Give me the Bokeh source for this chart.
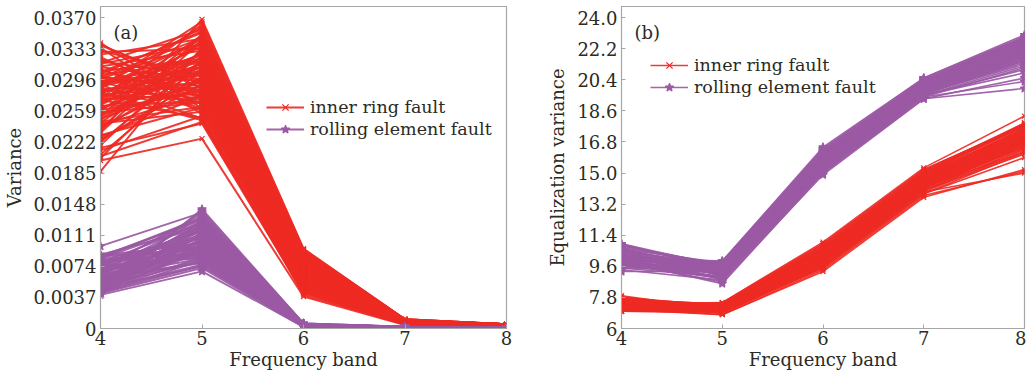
from bokeh.plotting import figure
from bokeh.layouts import row
from bokeh.models import (FixedTicker, CustomJSTickFormatter, Legend, LegendItem,
                          Label, Range1d)
from bokeh.embed import file_html
from bokeh.resources import INLINE

bands = [4, 5, 6, 7, 8]

# ---------------- panel (a): variance ----------------
red_a_b4 = [0.0340, 0.0337, 0.0334, 0.0326, 0.0318, 0.0312, 0.0308, 0.0305, 0.0302, 0.0300,
            0.0297, 0.0295, 0.0293, 0.0291, 0.0289, 0.0287, 0.0285, 0.0283, 0.0281, 0.0279,
            0.0277, 0.0275, 0.0273, 0.0271, 0.0268, 0.0265, 0.0262, 0.0259, 0.0256, 0.0252,
            0.0248, 0.0244, 0.0240, 0.0235, 0.0228, 0.0222, 0.0215, 0.0207, 0.0200, 0.0187,
            0.0331, 0.0321, 0.0315, 0.0309, 0.0303, 0.0298, 0.0294, 0.0290, 0.0286, 0.0282,
            0.0278, 0.0274, 0.0270, 0.0266, 0.0260, 0.0254, 0.0246, 0.0237, 0.0225, 0.0212,
            0.0338, 0.0329, 0.0323, 0.0316, 0.0311, 0.0306, 0.0301, 0.0299, 0.0296, 0.0292,
            0.0288, 0.0284, 0.0280, 0.0276, 0.0272, 0.0269, 0.0264, 0.0261, 0.0257, 0.0253,
            0.0250, 0.0245, 0.0242, 0.0238, 0.0233, 0.0230, 0.0224, 0.0218, 0.0205, 0.0203]
red_a_b5 = [0.0262, 0.0290, 0.0255, 0.0345, 0.0301, 0.0331, 0.0275, 0.0352, 0.0318, 0.0283,
            0.0340, 0.0296, 0.0268, 0.0325, 0.0310, 0.0359, 0.0287, 0.0304, 0.0248, 0.0336,
            0.0293, 0.0315, 0.0279, 0.0348, 0.0322, 0.0270, 0.0306, 0.0342, 0.0285, 0.0313,
            0.0329, 0.0258, 0.0299, 0.0368, 0.0277, 0.0320, 0.0244, 0.0308, 0.0226, 0.0335,
            0.0300, 0.0276, 0.0338, 0.0261, 0.0354, 0.0289, 0.0317, 0.0250, 0.0344, 0.0307,
            0.0272, 0.0362, 0.0295, 0.0328, 0.0282, 0.0312, 0.0264, 0.0349, 0.0291, 0.0253,
            0.0286, 0.0333, 0.0267, 0.0356, 0.0297, 0.0321, 0.0259, 0.0346, 0.0281, 0.0311,
            0.0365, 0.0274, 0.0327, 0.0302, 0.0251, 0.0339, 0.0288, 0.0316, 0.0269, 0.0350,
            0.0294, 0.0324, 0.0278, 0.0309, 0.0343, 0.0263, 0.0298, 0.0332, 0.0246, 0.0319]
red_a_b6 = [0.0058, 0.0072, 0.0049, 0.0088, 0.0065, 0.0081, 0.0054, 0.0093, 0.0070, 0.0061,
            0.0084, 0.0067, 0.0052, 0.0077, 0.0063, 0.0090, 0.0059, 0.0074, 0.0045, 0.0079,
            0.0062, 0.0069, 0.0056, 0.0086, 0.0075, 0.0050, 0.0066, 0.0082, 0.0060, 0.0071,
            0.0078, 0.0047, 0.0064, 0.0095, 0.0057, 0.0073, 0.0042, 0.0068, 0.0038, 0.0080,
            0.0066, 0.0055, 0.0083, 0.0048, 0.0091, 0.0061, 0.0076, 0.0044, 0.0087, 0.0069,
            0.0053, 0.0094, 0.0063, 0.0079, 0.0058, 0.0072, 0.0051, 0.0085, 0.0064, 0.0040,
            0.0062, 0.0084, 0.0052, 0.0091, 0.0067, 0.0078, 0.0049, 0.0088, 0.0060, 0.0073,
            0.0094, 0.0056, 0.0081, 0.0068, 0.0046, 0.0086, 0.0063, 0.0075, 0.0054, 0.0089,
            0.0065, 0.0080, 0.0057, 0.0071, 0.0087, 0.0050, 0.0066, 0.0083, 0.0043, 0.0076]
red_a_b7 = [0.0007, 0.0008, 0.0006, 0.0010, 0.0007, 0.0009, 0.0006, 0.0011, 0.0008, 0.0007,
            0.0009, 0.0008, 0.0006, 0.0009, 0.0007, 0.0010, 0.0007, 0.0008, 0.0005, 0.0009,
            0.0007, 0.0008, 0.0006, 0.0010, 0.0008, 0.0006, 0.0007, 0.0009, 0.0007, 0.0008,
            0.0009, 0.0005, 0.0007, 0.0011, 0.0006, 0.0008, 0.0005, 0.0008, 0.0004, 0.0009,
            0.0008, 0.0006, 0.0009, 0.0006, 0.0010, 0.0007, 0.0008, 0.0005, 0.0010, 0.0008,
            0.0006, 0.0011, 0.0007, 0.0009, 0.0007, 0.0008, 0.0006, 0.0009, 0.0007, 0.0005,
            0.0007, 0.0009, 0.0006, 0.0010, 0.0008, 0.0009, 0.0006, 0.0010, 0.0007, 0.0008,
            0.0011, 0.0006, 0.0009, 0.0008, 0.0005, 0.0010, 0.0007, 0.0008, 0.0006, 0.0010,
            0.0007, 0.0009, 0.0006, 0.0008, 0.0010, 0.0006, 0.0007, 0.0009, 0.0005, 0.0008]
red_a_b8 = [0.0003, 0.0004, 0.0003, 0.0005, 0.0003, 0.0004, 0.0003, 0.0005, 0.0004, 0.0003,
            0.0004, 0.0004, 0.0003, 0.0004, 0.0003, 0.0005, 0.0003, 0.0004, 0.0002, 0.0004,
            0.0003, 0.0004, 0.0003, 0.0005, 0.0004, 0.0003, 0.0003, 0.0004, 0.0003, 0.0004,
            0.0004, 0.0002, 0.0003, 0.0005, 0.0003, 0.0004, 0.0002, 0.0004, 0.0002, 0.0004,
            0.0004, 0.0003, 0.0004, 0.0003, 0.0005, 0.0003, 0.0004, 0.0002, 0.0005, 0.0004,
            0.0003, 0.0005, 0.0003, 0.0004, 0.0003, 0.0004, 0.0003, 0.0004, 0.0003, 0.0002,
            0.0003, 0.0004, 0.0003, 0.0005, 0.0004, 0.0004, 0.0003, 0.0005, 0.0003, 0.0004,
            0.0005, 0.0003, 0.0004, 0.0004, 0.0002, 0.0005, 0.0003, 0.0004, 0.0003, 0.0005,
            0.0003, 0.0004, 0.0003, 0.0004, 0.0005, 0.0003, 0.0003, 0.0004, 0.0002, 0.0004]

pur_a_b4 = [0.0098, 0.0088, 0.0086, 0.0084, 0.0082, 0.0080, 0.0078, 0.0077, 0.0075, 0.0074,
            0.0072, 0.0071, 0.0069, 0.0068, 0.0066, 0.0065, 0.0064, 0.0062, 0.0061, 0.0060,
            0.0058, 0.0057, 0.0056, 0.0055, 0.0054, 0.0053, 0.0052, 0.0051, 0.0050, 0.0049,
            0.0048, 0.0047, 0.0046, 0.0045, 0.0045, 0.0044, 0.0043, 0.0042, 0.0041, 0.0040,
            0.0087, 0.0083, 0.0079, 0.0076, 0.0073, 0.0070, 0.0067, 0.0063, 0.0059, 0.0056,
            0.0053, 0.0050, 0.0047, 0.0044, 0.0042,
            0.0086, 0.0081, 0.0077, 0.0074, 0.0071, 0.0068, 0.0065, 0.0062, 0.0060, 0.0057,
            0.0055, 0.0052, 0.0050, 0.0048, 0.0046, 0.0085, 0.0079, 0.0069, 0.0058, 0.0043]
pur_a_b5 = [0.0138, 0.0120, 0.0095, 0.0131, 0.0108, 0.0089, 0.0125, 0.0102, 0.0116, 0.0084,
            0.0112, 0.0098, 0.0128, 0.0093, 0.0105, 0.0118, 0.0087, 0.0100, 0.0123, 0.0079,
            0.0110, 0.0096, 0.0134, 0.0091, 0.0114, 0.0103, 0.0082, 0.0121, 0.0099, 0.0107,
            0.0140, 0.0076, 0.0113, 0.0094, 0.0142, 0.0085, 0.0106, 0.0072, 0.0097, 0.0068,
            0.0101, 0.0126, 0.0090, 0.0117, 0.0133, 0.0086, 0.0109, 0.0124, 0.0078, 0.0104,
            0.0119, 0.0092, 0.0074, 0.0111, 0.0081,
            0.0129, 0.0098, 0.0115, 0.0088, 0.0136, 0.0104, 0.0122, 0.0083, 0.0110, 0.0093,
            0.0127, 0.0100, 0.0080, 0.0118, 0.0091, 0.0132, 0.0107, 0.0120, 0.0096, 0.0075]
pur_a_b6 = [0.0006, 0.0005, 0.0004, 0.0005, 0.0004, 0.0003, 0.0005, 0.0004, 0.0004, 0.0003,
            0.0004, 0.0004, 0.0005, 0.0003, 0.0004, 0.0005, 0.0003, 0.0004, 0.0005, 0.0003,
            0.0004, 0.0003, 0.0005, 0.0003, 0.0004, 0.0004, 0.0003, 0.0005, 0.0004, 0.0004,
            0.0006, 0.0003, 0.0004, 0.0003, 0.0006, 0.0003, 0.0004, 0.0002, 0.0004, 0.0002,
            0.0004, 0.0005, 0.0003, 0.0004, 0.0005, 0.0003, 0.0004, 0.0005, 0.0003, 0.0004,
            0.0004, 0.0003, 0.0003, 0.0004, 0.0003,
            0.0005, 0.0004, 0.0004, 0.0003, 0.0005, 0.0004, 0.0004, 0.0003, 0.0004, 0.0003,
            0.0005, 0.0004, 0.0003, 0.0004, 0.0003, 0.0005, 0.0004, 0.0004, 0.0003, 0.0003]
pur_a_b7 = [0.0002, 0.0001, 0.0001, 0.0002, 0.0001, 0.0001, 0.0001, 0.0001, 0.0002, 0.0001,
            0.0001, 0.0001, 0.0002, 0.0001, 0.0001, 0.0001, 0.0001, 0.0001, 0.0002, 0.0001,
            0.0001, 0.0001, 0.0002, 0.0001, 0.0001, 0.0001, 0.0001, 0.0002, 0.0001, 0.0001,
            0.0002, 0.0001, 0.0001, 0.0001, 0.0002, 0.0001, 0.0001, 0.0001, 0.0001, 0.0001,
            0.0001, 0.0002, 0.0001, 0.0001, 0.0002, 0.0001, 0.0001, 0.0001, 0.0001, 0.0001,
            0.0002, 0.0001, 0.0001, 0.0001, 0.0001,
            0.0001, 0.0001, 0.0002, 0.0001, 0.0001, 0.0001, 0.0002, 0.0001, 0.0001, 0.0001,
            0.0001, 0.0001, 0.0002, 0.0001, 0.0001, 0.0001, 0.0001, 0.0002, 0.0001, 0.0001]
pur_a_b8 = [0.0001, 0.0001, 0.0001, 0.0001, 0.0001, 0.0001, 0.0001, 0.0001, 0.0001, 0.0001,
            0.0001, 0.0001, 0.0001, 0.0001, 0.0001, 0.0001, 0.0001, 0.0001, 0.0001, 0.0001,
            0.0001, 0.0001, 0.0001, 0.0001, 0.0001, 0.0001, 0.0001, 0.0001, 0.0001, 0.0001,
            0.0001, 0.0001, 0.0001, 0.0001, 0.0001, 0.0001, 0.0001, 0.0001, 0.0001, 0.0001,
            0.0001, 0.0001, 0.0001, 0.0001, 0.0001, 0.0001, 0.0001, 0.0001, 0.0001, 0.0001,
            0.0001, 0.0001, 0.0001, 0.0001, 0.0001,
            0.0001, 0.0001, 0.0001, 0.0001, 0.0001, 0.0001, 0.0001, 0.0001, 0.0001, 0.0001,
            0.0001, 0.0001, 0.0001, 0.0001, 0.0001, 0.0001, 0.0001, 0.0001, 0.0001, 0.0001]

# ---------------- panel (b): equalization variance ----------------
red_b_b4 = [7.9, 7.8, 7.8, 7.7, 7.7, 7.6, 7.6, 7.6, 7.5, 7.5,
            7.5, 7.4, 7.4, 7.4, 7.4, 7.3, 7.3, 7.3, 7.3, 7.3,
            7.2, 7.2, 7.2, 7.2, 7.2, 7.1, 7.1, 7.1, 7.1, 7.1,
            7.0, 7.0, 7.0, 7.5, 7.3, 7.6, 7.2, 7.4, 7.1, 7.0,
            7.8, 7.7, 7.6, 7.5, 7.4, 7.3, 7.2, 7.1, 7.0, 7.6, 7.4, 7.2, 7.5, 7.3, 7.1]
red_b_b5 = [7.1, 7.3, 6.9, 7.4, 7.2, 7.0, 7.3, 7.1, 7.4, 6.9,
            7.2, 7.0, 7.3, 7.1, 7.5, 7.2, 6.9, 7.3, 7.0, 7.2,
            7.4, 7.1, 7.3, 6.8, 7.2, 7.0, 7.3, 7.1, 7.4, 7.2,
            7.0, 7.3, 6.9, 7.2, 7.1, 7.4, 7.0, 7.3, 6.8, 7.2,
            7.2, 7.4, 7.0, 7.3, 7.1, 6.9, 7.4, 7.2, 7.0, 7.3, 7.1, 7.5, 6.9, 7.2, 7.0]
red_b_b6 = [10.1, 10.5, 9.6, 10.8, 10.2, 9.8, 10.6, 10.0, 10.4, 9.5,
            10.3, 9.9, 10.7, 10.1, 11.0, 10.3, 9.7, 10.5, 9.9, 10.2,
            10.6, 10.0, 10.4, 9.4, 10.2, 9.8, 10.6, 10.1, 10.9, 10.3,
            9.9, 10.5, 9.6, 10.2, 10.0, 10.7, 9.7, 10.4, 9.3, 10.2,
            10.3, 10.7, 9.8, 10.5, 10.0, 9.6, 10.8, 10.2, 9.7, 10.4, 10.1, 10.9, 9.5, 10.3, 9.9]
red_b_b7 = [14.4, 14.8, 13.9, 15.1, 14.5, 14.1, 14.9, 14.3, 14.7, 13.8,
            14.6, 14.2, 15.0, 14.4, 15.3, 14.6, 14.0, 14.8, 14.2, 14.5,
            14.9, 14.3, 14.7, 13.7, 14.5, 14.1, 14.9, 14.4, 15.2, 14.6,
            14.2, 14.8, 13.9, 14.5, 14.3, 15.0, 14.0, 14.7, 13.6, 14.5,
            14.6, 15.0, 14.2, 14.8, 14.3, 14.0, 15.1, 14.5, 14.1, 14.7, 14.4, 15.2, 13.8, 14.6, 14.2]
red_b_b8 = [16.9, 17.4, 16.3, 17.7, 17.0, 16.6, 17.5, 16.8, 17.3, 15.9,
            17.2, 16.7, 17.8, 16.9, 18.3, 17.1, 16.4, 17.6, 16.5, 17.0,
            17.6, 16.8, 17.4, 15.1, 17.1, 16.6, 17.9, 16.9, 17.8, 17.2,
            16.2, 17.5, 15.0, 17.0, 16.7, 17.7, 16.1, 17.3, 15.2, 17.0,
            17.2, 17.7, 16.6, 17.5, 16.9, 16.4, 17.9, 17.1, 16.5, 17.4, 16.8, 17.8, 16.2, 17.3, 16.7]

pur_b_b4 = [10.9, 10.8, 10.7, 10.6, 10.6, 10.5, 10.5, 10.4, 10.4, 10.3,
            10.3, 10.2, 10.2, 10.2, 10.1, 10.1, 10.0, 10.0, 10.0, 9.9,
            9.9, 9.9, 9.8, 9.8, 9.8, 9.7, 9.7, 9.7, 9.6, 9.6,
            9.5, 9.5, 9.4, 9.3, 10.3, 10.0, 9.8, 10.6, 9.9, 10.1,
            10.8, 10.6, 10.4, 10.2, 10.0, 9.8, 9.6, 10.7, 10.5, 10.3, 10.1, 9.9, 9.7, 9.5, 10.9]
pur_b_b5 = [9.4, 9.7, 9.0, 9.8, 9.3, 9.1, 9.6, 9.2, 9.5, 8.9,
            9.4, 9.1, 9.7, 9.3, 9.9, 9.4, 8.9, 9.6, 9.1, 9.3,
            9.6, 9.2, 9.5, 8.7, 9.3, 9.0, 9.6, 9.2, 9.8, 9.4,
            9.0, 9.5, 8.8, 9.3, 9.2, 9.7, 8.9, 9.5, 8.6, 9.3,
            9.5, 9.3, 9.8, 9.1, 9.6, 9.0, 9.4, 9.7, 8.8, 9.2, 9.5, 9.9, 8.9, 9.3, 9.6]
pur_b_b6 = [15.6, 16.0, 15.2, 16.3, 15.7, 15.4, 16.1, 15.5, 15.9, 15.1,
            15.8, 15.4, 16.2, 15.6, 16.5, 15.8, 15.2, 16.0, 15.4, 15.7,
            16.1, 15.5, 15.9, 14.9, 15.7, 15.3, 16.1, 15.6, 16.4, 15.8,
            15.3, 16.0, 15.1, 15.7, 15.5, 16.2, 15.2, 15.9, 15.0, 15.7,
            15.8, 15.5, 16.2, 15.3, 16.0, 15.2, 15.6, 16.3, 15.0, 15.4, 15.9, 16.4, 15.1, 15.7, 16.1]
pur_b_b7 = [19.9, 20.2, 19.6, 20.4, 20.0, 19.7, 20.3, 19.8, 20.1, 19.5,
            20.0, 19.7, 20.3, 19.9, 20.5, 20.0, 19.6, 20.2, 19.7, 19.9,
            20.3, 19.8, 20.1, 19.3, 19.9, 19.6, 20.2, 19.8, 20.4, 20.0,
            19.6, 20.1, 19.4, 19.9, 19.8, 20.3, 19.5, 20.1, 19.3, 19.9,
            20.0, 19.8, 20.3, 19.7, 20.2, 19.6, 19.9, 20.4, 19.4, 19.8, 20.1, 20.5, 19.5, 19.9, 20.2]
pur_b_b8 = [22.0, 22.5, 21.4, 22.8, 22.1, 21.7, 22.6, 21.9, 22.3, 21.2,
            22.2, 21.8, 22.7, 22.0, 23.0, 22.2, 21.5, 22.5, 21.6, 22.0,
            22.6, 21.9, 22.4, 20.5, 22.1, 21.6, 22.7, 22.0, 22.9, 22.2,
            21.3, 22.4, 20.3, 22.1, 21.8, 22.8, 21.0, 22.3, 19.9, 22.0,
            22.2, 21.9, 22.7, 21.7, 22.5, 21.5, 22.0, 22.8, 21.1, 21.8, 22.4, 22.9, 20.8, 22.1, 22.6]

ticks_a = [0, 0.0037, 0.0074, 0.0111, 0.0148, 0.0185, 0.0222, 0.0259, 0.0296, 0.0333, 0.0370]
ticks_b = [6, 7.8, 9.6, 11.4, 13.2, 15.0, 16.8, 18.6, 20.4, 22.2, 24.0]
series_names = ["inner ring fault", "rolling element fault"]

RED = "#EE2A24"
PURPLE = "#9B59A4"
FRAME = "#a6a6a6"
TXT = "#2b2b25"
FONT = "DejaVu Serif"


def build(width, border_left, border_right, yr, yticks, fmt, ylabel, tag,
          red_cols, pur_cols, leg_loc, lw):
    p = figure(width=width, height=372, output_backend="svg", toolbar_location=None,
               x_range=Range1d(4, 8), y_range=yr,
               min_border_left=border_left, min_border_right=border_right,
               min_border_top=6, min_border_bottom=20)
    p.grid.visible = False
    p.outline_line_color = FRAME
    p.outline_line_width = 1.2
    for ax in (p.xaxis[0], p.yaxis[0]):
        ax.axis_line_color = FRAME
        ax.major_tick_line_color = FRAME
        ax.major_tick_in = 4
        ax.major_tick_out = 0
        ax.minor_tick_line_color = None
        ax.major_label_text_font = FONT
        ax.major_label_text_font_size = "18px"
        ax.major_label_text_color = TXT
        ax.axis_label_text_font = FONT
        ax.axis_label_text_font_size = "18px"
        ax.axis_label_text_font_style = "normal"
        ax.axis_label_text_color = TXT
    p.xaxis.ticker = FixedTicker(ticks=bands)
    p.xaxis.axis_label = "Frequency band"
    p.xaxis.axis_label_standoff = 1
    p.xaxis.major_label_standoff = 2
    p.yaxis.ticker = FixedTicker(ticks=yticks)
    p.yaxis.formatter = CustomJSTickFormatter(code=fmt)
    p.yaxis.axis_label = ylabel
    p.yaxis.axis_label_standoff = 6
    p.yaxis.major_label_standoff = 4

    items = []
    for cols, color, marker, msize, name, w in ((red_cols, RED, "x", 7, series_names[0], lw[0]),
                                                (pur_cols, PURPLE, "star", 9, series_names[1], lw[1])):
        lines = list(zip(*cols))
        xs = [bands for _ in lines]
        ys = [list(l) for l in lines]
        ml = p.multi_line(xs, ys, line_color=color, line_width=w, line_alpha=0.92)
        px = [b for l in lines for b in bands]
        py = [v for l in lines for v in l]
        sc = p.scatter(px, py, marker=marker, size=msize, line_color=color,
                       fill_color=color, line_width=1.2)
        items.append(LegendItem(label=name, renderers=[ml, sc], index=0))
    leg = Legend(items=items, location=leg_loc, border_line_color=None,
                 background_fill_alpha=0, padding=0, margin=0, spacing=0,
                 label_height=22, glyph_height=22, glyph_width=38,
                 label_text_font=FONT, label_text_font_size="17.5px",
                 label_text_color=TXT, label_standoff=6)
    p.add_layout(leg, "center")
    p.add_layout(Label(x=13, y=307, x_units="screen", y_units="screen", text=tag,
                       text_font=FONT, text_font_size="18px", text_color=TXT,
                       text_baseline="top"))
    return p


p1 = build(520, 99, 14, Range1d(0, 0.03833), ticks_a,
           "return tick == 0 ? '0' : tick.toFixed(4);", "Variance", "(a)",
           [red_a_b4, red_a_b5, red_a_b6, red_a_b7, red_a_b8],
           [pur_a_b4, pur_a_b5, pur_a_b6, pur_a_b7, pur_a_b8], (166, 188), (2.0, 1.9))
p2 = build(506, 101, 2, Range1d(6, 24.645), ticks_b,
           "return tick == 6 ? '6' : tick.toFixed(1);", "Equalization variance", "(b)",
           [red_b_b4, red_b_b5, red_b_b6, red_b_b7, red_b_b8],
           [pur_b_b4, pur_b_b5, pur_b_b6, pur_b_b7, pur_b_b8], (29, 230), (1.6, 1.6))

layout = row(p1, p2)
open("out.html", "w").write(file_html(layout, INLINE))
